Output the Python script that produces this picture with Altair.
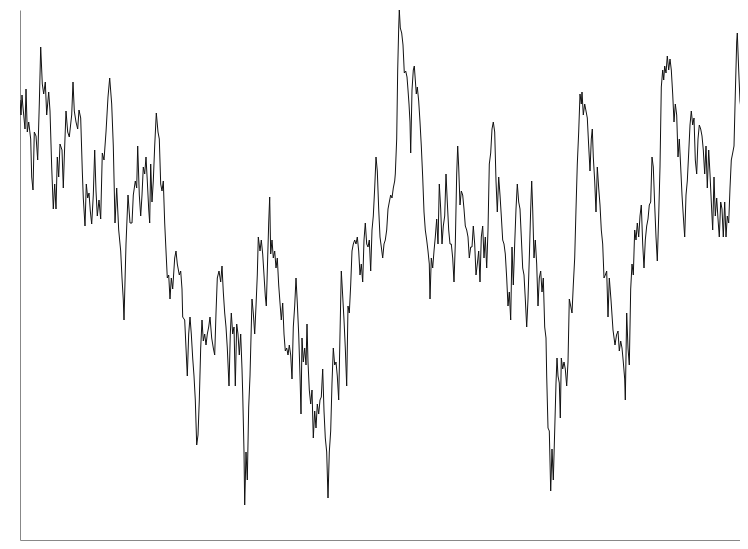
import altair as alt
import pandas as pd

# time step (arbitrary units) and level of the series
t = [0, 1, 2, 2.7, 5, 6, 7.3, 8.7, 10.7, 11.7, 13, 14.3, 16, 17.7, 19.3, 20.7, 22.3, 23.7, 25.3, 26.7,
     28.7, 30, 31.7, 33.3, 34.7, 36, 37.3, 38.7, 40, 42, 43.3, 44.3, 46, 47.7, 49.3, 50.7, 51.7, 53, 54.3, 56,
     57.7, 59, 60.7, 62.3, 63.3, 65, 66.3, 67.7, 69, 70.3, 71.7, 73.3, 74.7, 76, 77.3, 79, 80.7, 82.3, 84, 86,
     88, 89.7, 91.7, 93.3, 95, 96.7, 98.7, 100.7, 102, 103.3, 104, 106, 108, 110, 112, 113.3, 115.3, 116.7, 117.7, 119.3,
     120.7, 122, 123.3, 124.7, 126, 127.3, 128.7, 129.7, 130.7, 132, 133.3, 134.7, 136.3, 138, 139.3, 140.7, 142, 143.3, 144.7, 146,
     147.3, 148.7, 150, 151.3, 152.7, 154.7, 156, 157.3, 159.3, 160.7, 162, 162.7, 164.7, 166, 167.3, 168.7, 170, 171.3, 172.7, 174,
     175.3, 176.7, 178, 179.3, 180.7, 182, 183.3, 184.7, 186, 187.3, 188.7, 190, 191.7, 193.3, 194.7, 196, 197.3, 199, 200.7, 202,
     203.3, 204.7, 206, 207.3, 209, 210.3, 211.3, 212.7, 214, 215.3, 216.7, 218, 219.3, 220.7, 222, 222.7, 224, 224.7, 226, 227.3,
     228.7, 230, 232, 233.3, 234.7, 236, 237.3, 238.3, 240, 241.3, 242.7, 244, 245.3, 246.3, 247.3, 248.7, 249.7, 250.7, 252, 253.3,
     254.7, 256, 257.3, 258.7, 260, 261.3, 262.7, 264, 265.3, 266.7, 268, 269.3, 270.7, 272, 273.3, 274.7, 276, 277.3, 278.7, 280,
     281, 282, 283.3, 284.7, 286, 287, 288, 289.3, 290.7, 292, 293.3, 294.7, 296, 297.3, 298.7, 300, 301.3, 302.7, 304, 305.3,
     306.7, 308, 309.3, 310.7, 312, 313.3, 314.7, 316, 317.3, 318.7, 320, 321.3, 322.7, 324, 325.3, 326.7, 328, 329.3, 330.7, 332,
     333.3, 334.7, 336, 337.3, 338.7, 340, 341.3, 342.7, 344, 345.3, 346.7, 348, 349.3, 350.7, 352, 353.3, 354.7, 356, 357.3, 358.7,
     360, 361.3, 362.7, 364, 365.3, 366.7, 368, 369.3, 370.7, 372, 373.3, 374.7, 375.3, 376.7, 377.7, 378.7, 379.3, 380.3, 381.7, 383,
     384.3, 385.7, 387, 388, 389, 390, 390.7, 392, 393.3, 394.3, 395.3, 396.3, 397.3, 398.7, 400, 401.3, 402.7, 404, 405.3, 406.7,
     408, 409.3, 410, 411.3, 412.7, 414, 415.3, 416.7, 418, 419.3, 420.7, 422, 423.3, 424.7, 426, 427.3, 428.7, 430, 431.3, 432.7,
     434, 435.3, 436.7, 437.7, 438.7, 440, 441.3, 442.7, 444, 445.3, 446.7, 448, 449.3, 450.7, 452, 453.3, 454.7, 456, 457.3, 458.7,
     460, 461.3, 462.7, 464, 465.3, 466.7, 468, 469.3, 470.7, 472, 473.3, 474.7, 476, 477.3, 478.7, 480, 481.3, 482.7, 484, 485.3,
     486.7, 488, 489.3, 490.7, 492, 493.3, 494.7, 496, 497.3, 498.7, 500, 501.3, 502.7, 504, 505.3, 506.7, 508, 509.3, 510.7, 511.7,
     512.7, 514, 515.3, 516.7, 518, 519.3, 520.7, 522, 523.3, 524.7, 526, 526.7, 528, 529.3, 530.7, 532, 533.3, 534.7, 536, 537,
     538, 539.3, 540.3, 541.3, 542.7, 544, 545.3, 546.7, 548, 549.3, 550.7, 552, 553.3, 554.7, 556, 557.3, 558.7, 560, 561.3, 562,
     563.3, 564.7, 566, 567.3, 568.7, 570, 571.3, 572.3, 573.3, 574.7, 576, 577.3, 578.7, 580, 581.3, 582.7, 584, 585.3, 586.7, 588,
     589.3, 591, 593, 595, 596.5, 598, 599.3, 600.7, 602, 603.3, 604.7, 605.3, 606.7, 608, 609.3, 610.7, 612, 613.3, 614.7, 616,
     617.3, 618.7, 620, 621.3, 622.7, 624, 625.3, 626.7, 628, 629.3, 630.7, 632, 633.3, 634.7, 636, 637.3, 638.7, 640, 641.3, 642.7,
     643.7, 644.7, 646, 647.3, 648.7, 650, 651.3, 652.7, 654, 655.3, 656.7, 658, 659.3, 660.7, 662, 663.3, 664.7, 666, 667.3, 668.7,
     670, 671.3, 672.7, 674, 675.3, 676.7, 678, 679.3, 680.7, 682, 683.3, 684.7, 686, 687.3, 688.7, 690, 691.3, 692.7, 694, 695.3,
     696.7, 698, 699.3, 700.7, 702, 703.3, 704.7, 706, 707.3, 708.7, 710, 711.3, 712.7, 714, 715.3, 716.7, 717.3, 718.7, 720, 721.3,
     722.7, 724, 725.3, 726.7, 727.7]

level = [443, 428, 448, 439, 414, 454, 411, 421, 404, 366, 353, 411, 407, 383, 439, 496, 459, 449, 461, 428,
         451, 432, 376, 334, 359, 334, 386, 366, 399, 393, 355, 386, 432, 411, 406, 419, 428, 461, 432, 421,
         414, 433, 425, 372, 345, 317, 359, 345, 350, 332, 319, 348, 393, 352, 327, 343, 324, 390, 383, 411,
         446, 465, 439, 397, 320, 355, 313, 292, 265, 243, 223, 299, 348, 320, 320, 348, 362, 355, 397, 348,
         327, 348, 376, 369, 386, 362, 334, 320, 379, 341, 362, 397, 430, 411, 404, 359, 352, 362, 320, 292,
         265, 268, 244, 265, 254, 285, 292, 279, 268, 272, 254, 226, 223, 195, 167, 209, 226, 209, 185, 167,
         143, 98, 108, 143, 195, 223, 202, 209, 198, 209, 216, 226, 205, 195, 188, 230, 265, 272, 261, 277,
         251, 230, 216, 195, 157, 209, 230, 209, 216, 157, 219, 209, 188, 209, 174, 150, 91, 38, 91, 63,
         136, 167, 244, 230, 209, 237, 268, 306, 292, 303, 289, 268, 247, 237, 272, 320, 346, 289, 303, 285,
         292, 275, 285, 258, 240, 223, 240, 209, 192, 195, 188, 198, 188, 164, 216, 237, 265, 240, 209, 167,
         129, 205, 181, 195, 178, 219, 181, 153, 139, 153, 105, 132, 115, 139, 129, 143, 146, 174, 132, 105,
         91, 45, 91, 112, 160, 195, 178, 181, 167, 143, 209, 272, 247, 223, 195, 157, 237, 230, 258, 292,
         299, 303, 299, 306, 292, 268, 279, 261, 303, 320, 299, 296, 303, 272, 313, 327, 355, 386, 372, 334,
         306, 296, 285, 299, 303, 313, 334, 341, 348, 345, 355, 362, 369, 404, 473, 515, 533, 515, 510, 498,
         470, 472, 466, 453, 439, 421, 390, 453, 473, 477, 463, 449, 456, 442, 421, 397, 366, 331, 313, 303,
         292, 279, 244, 285, 275, 292, 306, 324, 299, 359, 334, 299, 317, 327, 369, 341, 313, 299, 299, 285,
         261, 299, 369, 397, 376, 338, 352, 348, 334, 317, 313, 306, 285, 296, 296, 317, 299, 268, 279, 292,
         261, 306, 317, 285, 306, 275, 313, 379, 390, 414, 421, 411, 362, 331, 366, 348, 327, 303, 299, 289,
         265, 237, 251, 223, 296, 258, 299, 334, 359, 341, 334, 306, 275, 268, 244, 216, 244, 285, 334, 362,
         334, 285, 303, 279, 237, 265, 272, 251, 265, 216, 205, 167, 115, 112, 52, 94, 63, 112, 160, 185,
         167, 160, 125, 185, 174, 181, 174, 157, 181, 244, 237, 230, 258, 285, 334, 379, 411, 449, 439, 451,
         428, 439, 432, 425, 397, 372, 404, 414, 386, 362, 331, 376, 355, 338, 313, 299, 265, 268, 272, 226,
         265, 243, 213, 198, 208, 212, 192, 202, 195, 181, 164, 143, 230, 195, 178, 254, 279, 268, 313, 303,
         320, 306, 327, 338, 299, 275, 303, 317, 324, 338, 341, 386, 376, 338, 306, 282, 327, 376, 456, 473,
         463, 477, 470, 487, 473, 484, 473, 449, 421, 439, 428, 386, 404, 376, 348, 327, 306, 348, 362, 390,
         418, 432, 418, 425, 383, 369, 404, 418, 414, 407, 393, 369, 397, 355, 393, 369, 341, 313, 366, 327,
         345, 324, 306, 341, 334, 306, 341, 306, 327, 320, 355, 383, 390, 397, 449, 501, 510, 473, 442, 432,
         439, 428, 453, 421, 432]

df = pd.DataFrame({"t": t, "level": level})

chart = alt.Chart(df).mark_line(color="#111111", strokeWidth=1, clip=True).encode(
    x=alt.X("t:Q", scale=alt.Scale(domain=[0, 720], nice=False, zero=False),
            axis=alt.Axis(labels=False, ticks=False, grid=False, title=None,
                          domainColor="#888888", domainWidth=1)),
    y=alt.Y("level:Q", scale=alt.Scale(domain=[3, 533], nice=False, zero=False),
            axis=alt.Axis(labels=False, ticks=False, grid=False, title=None,
                          domainColor="#888888", domainWidth=1)),
).properties(
    width=720,
    height=530,
    autosize=alt.AutoSizeParams(type="none"),
    padding={"left": 12, "top": 2, "right": 0, "bottom": 1},
).configure_view(stroke=None)

chart.save("out.html", embed_options={"renderer": "svg", "actions": False})
